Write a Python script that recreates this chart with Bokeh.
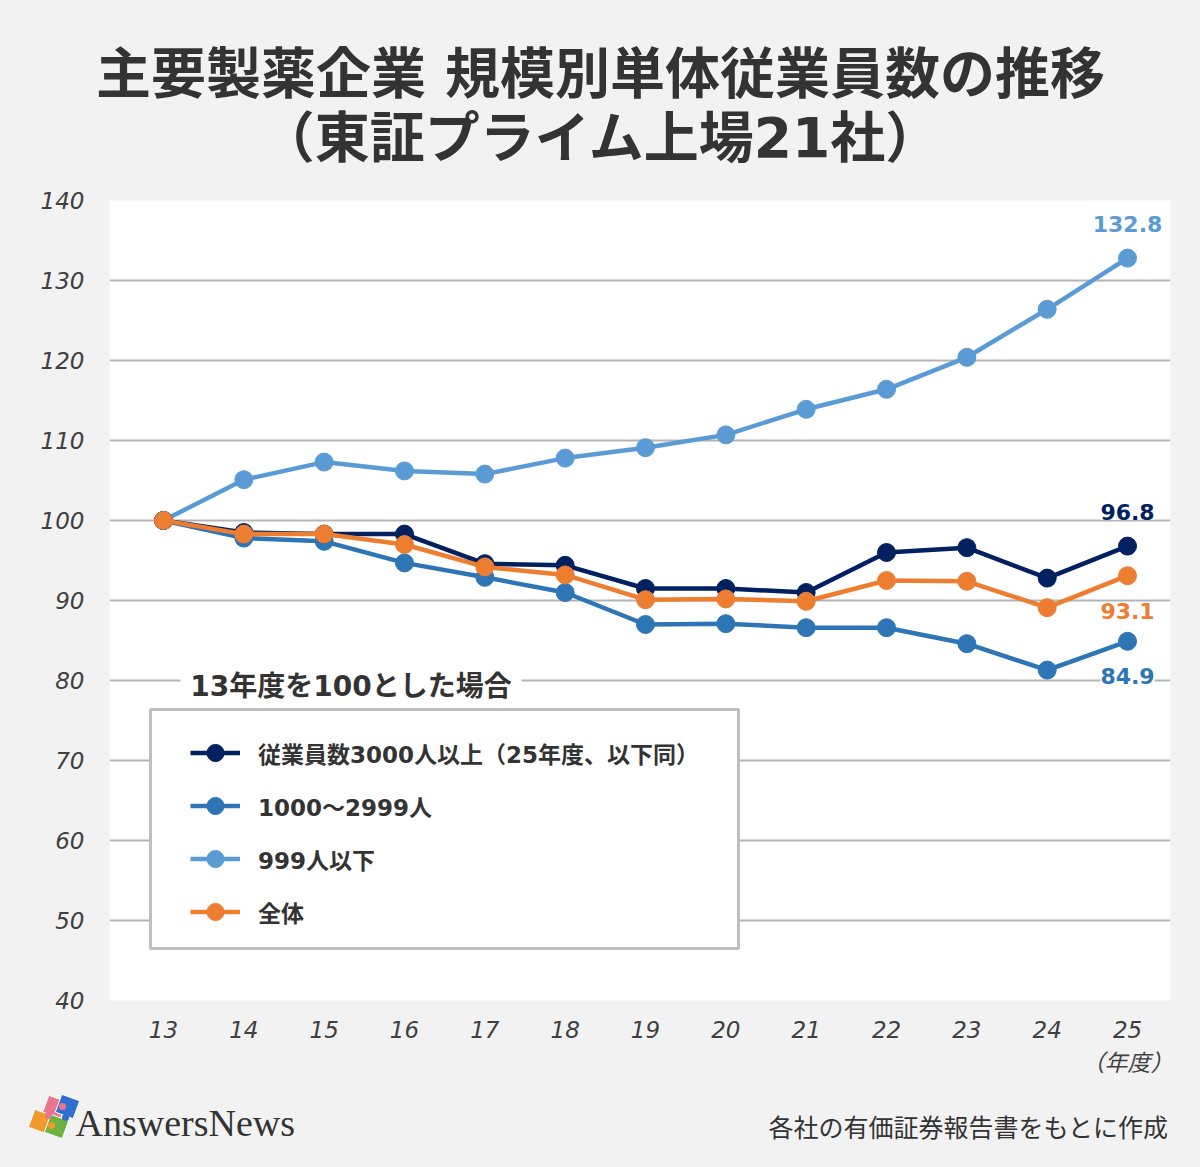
from bokeh.plotting import figure
from bokeh.layouts import column
from bokeh.models import FixedTicker, Label, Legend, LegendItem, Range1d, BoxAnnotation
from bokeh.core.properties import value
from bokeh.embed import file_html
from bokeh.resources import INLINE

# Fiscal years (13 = FY2013) and headcount index (FY13 = 100)
years = [13, 14, 15, 16, 17, 18, 19, 20, 21, 22, 23, 24, 25]
large = [100, 98.5, 98.3, 98.3, 94.6, 94.4, 91.5, 91.5, 91.0, 96.0, 96.6, 92.8, 96.8]
mid = [100, 97.8, 97.4, 94.7, 92.9, 91.0, 87.0, 87.1, 86.6, 86.6, 84.6, 81.3, 84.9]
small = [100, 105.1, 107.3, 106.2, 105.8, 107.8, 109.1, 110.7, 113.9, 116.4, 120.4, 126.4, 132.8]
total = [100, 98.3, 98.3, 97.0, 94.2, 93.2, 90.1, 90.2, 89.9, 92.5, 92.4, 89.1, 93.1]

series_names = ["従業員数3000人以上（25年度、以下同）", "1000～2999人", "999人以下", "全体"]
y_ticks = [40, 50, 60, 70, 80, 90, 100, 110, 120, 130, 140]
title_lines = ["主要製薬企業 規模別単体従業員数の推移", "（東証プライム上場21社）"]

NAVY = "#002060"
BLUE = "#2e75b6"
LIGHT = "#5b9bd5"
ORANGE = "#ed7d31"
TEXT = "#333333"
BG = "#f2f2f2"
MIXED = "'DejaVu Sans', 'Noto Sans CJK JP'"
CJK = "'Noto Sans CJK JP'"

W = 1200
HEAD_H, MAIN_H, FOOT_H = 180, 865, 122


def strip(height):
    """A bare figure whose data units are canvas pixels (y grows downward)."""
    f = figure(width=W, height=height, output_backend="svg", toolbar_location=None,
               x_range=Range1d(0, W), y_range=Range1d(height, 0),
               x_axis_type=None, y_axis_type=None, min_border=0,
               min_border_left=0, min_border_right=0, min_border_top=0, min_border_bottom=0)
    f.frame_align = False
    f.grid.visible = False
    f.outline_line_color = None
    f.background_fill_color = BG
    f.border_fill_color = BG
    return f


# ---- header: two-line title
head = strip(HEAD_H)
head.text(x=[600, 600], y=[73, 137], text=title_lines, text_font=value(MIXED),
          text_font_style="bold", text_font_size="55px", text_color=TEXT,
          text_align="center", text_baseline="middle")

# ---- main chart
FRAME_L, FRAME_R = 109, 1170
TOP_PAD, BOT_PAD = 20, 45
FRAME_H = MAIN_H - TOP_PAD - BOT_PAD
X0, X1 = 12.328, 25.535
Y0, Y1 = 40, 140

p = figure(width=W, height=MAIN_H, output_backend="svg", toolbar_location=None,
           x_range=Range1d(X0, X1), y_range=Range1d(Y0, Y1),
           min_border_left=FRAME_L, min_border_right=W - FRAME_R,
           min_border_top=TOP_PAD, min_border_bottom=BOT_PAD)
p.frame_align = False
p.border_fill_color = BG
p.background_fill_color = "white"
p.outline_line_color = None

# canvas-pixel helpers for placing furniture inside the frame
FRAME_T_CANVAS = HEAD_H + TOP_PAD
FRAME_B_CANVAS = FRAME_T_CANVAS + FRAME_H


def to_x(cx):
    return X0 + (cx - FRAME_L) * (X1 - X0) / (FRAME_R - FRAME_L)


def to_y(cy):
    return Y0 + (FRAME_B_CANVAS - cy) * (Y1 - Y0) / FRAME_H


p.xaxis.ticker = FixedTicker(ticks=years)
p.yaxis.ticker = FixedTicker(ticks=y_ticks)
for ax in (p.xaxis[0], p.yaxis[0]):
    ax.axis_line_color = None
    ax.major_tick_line_color = None
    ax.minor_tick_line_color = None
    ax.major_label_text_font = "DejaVu Sans"
    ax.major_label_text_font_style = "italic"
    ax.major_label_text_font_size = "23px"
    ax.major_label_text_color = "#404040"
p.yaxis.major_label_standoff = 19
p.xaxis.major_label_standoff = 14
p.xgrid.grid_line_color = None
p.ygrid.grid_line_color = "#b4b4b4"
p.ygrid.grid_line_width = 2

# series: draw order keeps the overall index on top
order = [(small, LIGHT, 2), (mid, BLUE, 1), (large, NAVY, 0), (total, ORANGE, 3)]
items = {}
for vals, col, idx in order:
    ln = p.line(years, vals, line_color=col, line_width=4.5)
    sc = p.scatter(years, vals, size=18, fill_color=col, line_color=col)
    items[idx] = LegendItem(label=series_names[idx], renderers=[ln, sc])

# legend frame
p.add_layout(BoxAnnotation(left=to_x(150), right=to_x(738), top=to_y(709), bottom=to_y(948),
                           fill_color="white", fill_alpha=1.0, line_alpha=1.0,
                           line_color="#bfbfbf", line_width=3, level="annotation"))

legend = Legend(items=[items[i] for i in range(4)],
                location=(190 - FRAME_L, FRAME_B_CANVAS - 933),
                padding=0, spacing=10, glyph_width=50, glyph_height=43, label_height=43,
                label_standoff=18, margin=0, border_line_color=None,
                background_fill_alpha=0.0,
                label_text_font=MIXED, label_text_font_style="bold",
                label_text_font_size="23px", label_text_color=TEXT)
p.add_layout(legend, "center")

# legend heading, sitting on the 80 gridline
p.add_layout(Label(x=to_x(180), y=to_y(686), text="\u00a013年度を100とした場合\u00a0",
                   text_font=MIXED, text_font_style="bold", text_font_size="28px",
                   text_color=TEXT, text_baseline="middle", background_fill_color="white"))

# end-point value labels
end_labels = [(small, LIGHT, 34), (large, NAVY, 34), (total, ORANGE, -35), (mid, BLUE, -35)]
for vals, col, off in end_labels:
    p.add_layout(Label(x=years[-1], y=vals[-1], y_offset=off, text=f"{vals[-1]:.1f}",
                       text_font="DejaVu Sans", text_font_style="bold", text_font_size="22px",
                       text_color=col, text_align="center", text_baseline="middle",
                       background_fill_color="white"))

# ---- footer: unit, logo, source
foot = strip(FOOT_H)
foot.text(x=[1127], y=[15], text=["（年度）"], text_font=value(CJK), text_font_style="italic",
          text_font_size="23px", text_color="#404040", text_align="center",
          text_baseline="middle")
foot.text(x=[1168], y=[80], text=["各社の有価証券報告書をもとに作成"], text_font=value(CJK),
          text_font_size="25px", text_color=TEXT, text_align="right", text_baseline="middle")
# puzzle-piece mark
foot.scatter(x=[54, 67, 40, 56], y=[62, 61, 76, 81], marker="square", size=19,
             angle=-0.35, fill_color=["#e8768e", "#2f6fcf", "#f29a2e", "#6cb33f"],
             line_color="white", line_width=1)
foot.scatter(x=[62, 48, 65, 51], y=[61, 70, 72, 80], marker="circle", size=7,
             fill_color=["#e8768e", "#e8768e", "#2f6fcf", "#f29a2e"], line_color=None)
foot.text(x=[75], y=[77], text=["AnswersNews"], text_font=value("Liberation Serif"),
          text_font_size="38px", text_color="#333333", text_align="left",
          text_baseline="middle")

layout = column(head, p, foot, spacing=0, styles={"background-color": BG})
open("out.html", "w").write(file_html(layout, INLINE))
